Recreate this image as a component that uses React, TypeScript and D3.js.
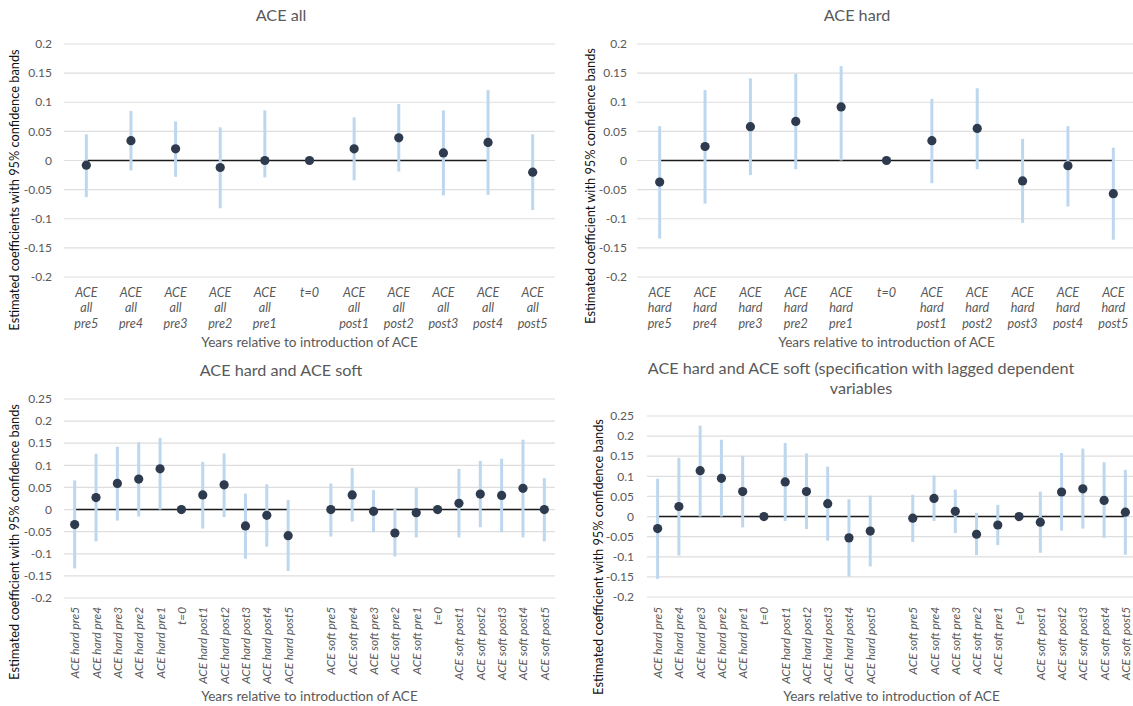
import React from "react";
import * as d3 from "d3";

// ---------- data ----------
const catsAll = ["ACE all pre5", "ACE all pre4", "ACE all pre3", "ACE all pre2", "ACE all pre1", "t=0", "ACE all post1", "ACE all post2", "ACE all post3", "ACE all post4", "ACE all post5"];
const estAll = [-0.008, 0.034, 0.02, -0.012, 0.0, 0, 0.02, 0.039, 0.013, 0.031, -0.02];
const loAll = [-0.063, -0.017, -0.028, -0.082, -0.029, null, -0.034, -0.019, -0.06, -0.059, -0.085];
const hiAll = [0.045, 0.085, 0.067, 0.057, 0.086, null, 0.074, 0.097, 0.086, 0.121, 0.045];
const zeroAll = [0, 0, 0, 0, 0, 0, 0, 0, 0, 0, null];

const catsHard = ["ACE hard pre5", "ACE hard pre4", "ACE hard pre3", "ACE hard pre2", "ACE hard pre1", "t=0", "ACE hard post1", "ACE hard post2", "ACE hard post3", "ACE hard post4", "ACE hard post5"];
const catsSoft = ["ACE soft pre5", "ACE soft pre4", "ACE soft pre3", "ACE soft pre2", "ACE soft pre1", "t=0", "ACE soft post1", "ACE soft post2", "ACE soft post3", "ACE soft post4", "ACE soft post5"];

const estHard = [-0.037, 0.024, 0.058, 0.067, 0.092, 0, 0.034, 0.055, -0.035, -0.009, -0.057];
const loHard = [-0.134, -0.074, -0.025, -0.015, 0.0, null, -0.039, -0.015, -0.107, -0.079, -0.136];
const hiHard = [0.059, 0.121, 0.141, 0.149, 0.162, null, 0.106, 0.124, 0.037, 0.059, 0.022];
const zeroHard = [0, 0, 0, 0, 0, 0, 0, 0, 0, 0, 0];

const estHard3 = [-0.034, 0.027, 0.059, 0.069, 0.092, 0, 0.033, 0.056, -0.037, -0.013, -0.059];
const loHard3 = [-0.133, -0.072, -0.025, -0.016, 0.0, null, -0.043, -0.017, -0.111, -0.084, -0.139];
const hiHard3 = [0.066, 0.126, 0.142, 0.152, 0.162, null, 0.108, 0.127, 0.036, 0.057, 0.022];
const estSoft3 = [0.0, 0.033, -0.004, -0.053, -0.007, 0, 0.014, 0.035, 0.032, 0.048, 0.0];
const loSoft3 = [-0.061, -0.027, -0.051, -0.106, -0.063, null, -0.063, -0.04, -0.051, -0.063, -0.072];
const hiSoft3 = [0.059, 0.094, 0.044, 0.002, 0.05, null, 0.092, 0.11, 0.115, 0.158, 0.071];

const estHard4 = [-0.03, 0.025, 0.114, 0.095, 0.062, 0, 0.086, 0.062, 0.032, -0.053, -0.036];
const loHard4 = [-0.155, -0.097, 0.0, 0.0, -0.027, null, -0.011, -0.031, -0.06, -0.149, -0.124];
const hiHard4 = [0.094, 0.146, 0.226, 0.191, 0.151, null, 0.183, 0.157, 0.124, 0.043, 0.052];
const estSoft4 = [-0.004, 0.045, 0.013, -0.044, -0.021, 0, -0.014, 0.061, 0.069, 0.04, 0.011];
const loSoft4 = [-0.063, -0.011, -0.041, -0.096, -0.071, null, -0.09, -0.035, -0.03, -0.053, -0.095];
const hiSoft4 = [0.054, 0.102, 0.067, 0.009, 0.029, null, 0.062, 0.158, 0.169, 0.135, 0.116];
const zeroBoth = [0, 0, 0, 0, 0, 0, 0, 0, 0, 0, 0];

const ticksA = [-0.2, -0.15, -0.1, -0.05, 0, 0.05, 0.1, 0.15, 0.2];
const ticksB = [-0.2, -0.15, -0.1, -0.05, 0, 0.05, 0.1, 0.15, 0.2, 0.25];

// ---------- styling ----------
const FONT = "Lato, 'Liberation Sans', sans-serif";
const GREY = "#595959";
const POINT = "#2E3A4D";
const BAR = "#BDD7EE";
const GRID = "#DEDEDE";

type Val = number | null;
interface Spec {
  title: string[];
  titleX: number;
  titleY: number;
  yTitle: string;
  yTitleX: number;
  yTitleY: number;
  x0: number;
  x1: number;
  yTop: number;
  yBottom: number;
  yMin: number;
  yMax: number;
  ticks: number[];
  tickRight: number;
  labels: string[];
  est: Val[];
  lo: Val[];
  hi: Val[];
  zero: Val[];
  rotated: boolean;
  labelTop: number;
  xTitleY: number;
}

const fmt = (t: number) => String(Math.round(t * 100) / 100);

function Panel({ s }: { s: Spec }) {
  const idx = d3.range(s.labels.length);
  const x = d3.scaleBand<number>().domain(idx).range([s.x0, s.x1]);
  const y = d3.scaleLinear().domain([s.yMin, s.yMax]).range([s.yBottom, s.yTop]);
  const cx = (i: number) => (x(i) as number) + x.bandwidth() / 2;
  const zeroPath = d3
    .line<Val>()
    .defined((d) => d != null)
    .x((_, i) => cx(i))
    .y((d) => y(d as number))(s.zero);

  return (
    <g>
      {s.title.map((t, i) => (
        <text key={i} x={s.titleX} y={s.titleY + i * 19.5} textAnchor="middle" fontSize={16.2} fill={GREY} fontFamily={FONT}>
          {t}
        </text>
      ))}
      {s.ticks.map((t) => (
        <g key={t}>
          <line x1={s.x0} x2={s.x1} y1={y(t)} y2={y(t)} stroke={GRID} strokeWidth={1.2} />
          <text x={s.tickRight} y={y(t)} dy="0.35em" textAnchor="end" fontSize={12} fill={GREY} fontFamily={FONT}>
            {fmt(t)}
          </text>
        </g>
      ))}
      <text
        transform={`translate(${s.yTitleX},${s.yTitleY}) rotate(-90)`}
        textAnchor="middle"
        dominantBaseline="central"
        fontSize={12.8}
        fill="#111"
        fontFamily={FONT}
      >
        {s.yTitle}
      </text>
      {zeroPath && <path d={zeroPath} fill="none" stroke="#1a1a1a" strokeWidth={1.5} />}
      {idx.map((i) =>
        s.lo[i] != null && s.hi[i] != null ? (
          <line key={"b" + i} x1={cx(i)} x2={cx(i)} y1={y(s.lo[i] as number)} y2={y(s.hi[i] as number)} stroke={BAR} strokeWidth={3} />
        ) : null
      )}
      {idx.map((i) =>
        s.est[i] != null ? <circle key={"p" + i} cx={cx(i)} cy={y(s.est[i] as number)} r={4.6} fill={POINT} /> : null
      )}
      {idx.map((i) => {
        const lab = s.labels[i];
        if (!lab) return null;
        if (s.rotated) {
          return (
            <text
              key={"l" + i}
              transform={`translate(${cx(i)},${s.labelTop}) rotate(-90)`}
              textAnchor="end"
              dominantBaseline="central"
              fontSize={11.8}
              fontStyle="italic"
              fill={GREY}
              fontFamily={FONT}
            >
              {lab}
            </text>
          );
        }
        const parts = lab.split(" ");
        return (
          <text key={"l" + i} textAnchor="middle" fontSize={12.6} fontStyle="italic" fill={GREY} fontFamily={FONT}>
            {parts.map((p, j) => (
              <tspan key={j} x={cx(i)} y={s.labelTop + j * 15.3}>
                {p}
              </tspan>
            ))}
          </text>
        );
      })}
      <text x={(s.x0 + s.x1) / 2} y={s.xTitleY} textAnchor="middle" fontSize={13.6} fill={GREY} fontFamily={FONT}>
        Years relative to introduction of ACE
      </text>
    </g>
  );
}

const specs: Spec[] = [
  {
    title: ["ACE all"],
    titleX: 281,
    titleY: 21,
    yTitle: "Estimated coefficients with 95% confidence bands",
    yTitleX: 14,
    yTitleY: 190,
    x0: 64,
    x1: 555,
    yTop: 44,
    yBottom: 277,
    yMin: -0.2,
    yMax: 0.2,
    ticks: ticksA,
    tickRight: 52,
    labels: catsAll,
    est: estAll,
    lo: loAll,
    hi: hiAll,
    zero: zeroAll,
    rotated: false,
    labelTop: 297,
    xTitleY: 347,
  },
  {
    title: ["ACE hard"],
    titleX: 857,
    titleY: 21,
    yTitle: "Estimated coefficient with 95% confidence bands",
    yTitleX: 590,
    yTitleY: 186,
    x0: 637,
    x1: 1136,
    yTop: 44,
    yBottom: 277,
    yMin: -0.2,
    yMax: 0.2,
    ticks: ticksA,
    tickRight: 627,
    labels: catsHard,
    est: estHard,
    lo: loHard,
    hi: hiHard,
    zero: zeroHard,
    rotated: false,
    labelTop: 297,
    xTitleY: 347,
  },
  {
    title: ["ACE hard and ACE soft"],
    titleX: 281,
    titleY: 376,
    yTitle: "Estimated coefficient with 95% confidence bands",
    yTitleX: 14,
    yTitleY: 542,
    x0: 64,
    x1: 555,
    yTop: 399,
    yBottom: 598,
    yMin: -0.2,
    yMax: 0.25,
    ticks: ticksB,
    tickRight: 52,
    labels: [...catsHard, "", ...catsSoft],
    est: [...estHard3, null, ...estSoft3],
    lo: [...loHard3, null, ...loSoft3],
    hi: [...hiHard3, null, ...hiSoft3],
    zero: [...zeroBoth, null, ...zeroBoth],
    rotated: true,
    labelTop: 607,
    xTitleY: 701,
  },
  {
    title: ["ACE hard and ACE soft (specification with lagged dependent", "variables"],
    titleX: 861,
    titleY: 374,
    yTitle: "Estimated coefficient with 95% confidence bands",
    yTitleX: 598,
    yTitleY: 557,
    x0: 647,
    x1: 1136,
    yTop: 416,
    yBottom: 597,
    yMin: -0.2,
    yMax: 0.25,
    ticks: ticksB,
    tickRight: 634,
    labels: [...catsHard, "", ...catsSoft],
    est: [...estHard4, null, ...estSoft4],
    lo: [...loHard4, null, ...loSoft4],
    hi: [...hiHard4, null, ...hiSoft4],
    zero: [...zeroBoth, null, ...zeroBoth],
    rotated: true,
    labelTop: 607,
    xTitleY: 701,
  },
];

export default function App() {
  return (
    <svg
      width={1133}
      height={706}
      viewBox="0 0 1133 706"
      style={{ position: "absolute", left: 0, top: 0, background: "#fff" }}
    >
      <rect x={0} y={0} width={1133} height={706} fill="#fff" />
      {specs.map((s, i) => (
        <Panel key={i} s={s} />
      ))}
    </svg>
  );
}
